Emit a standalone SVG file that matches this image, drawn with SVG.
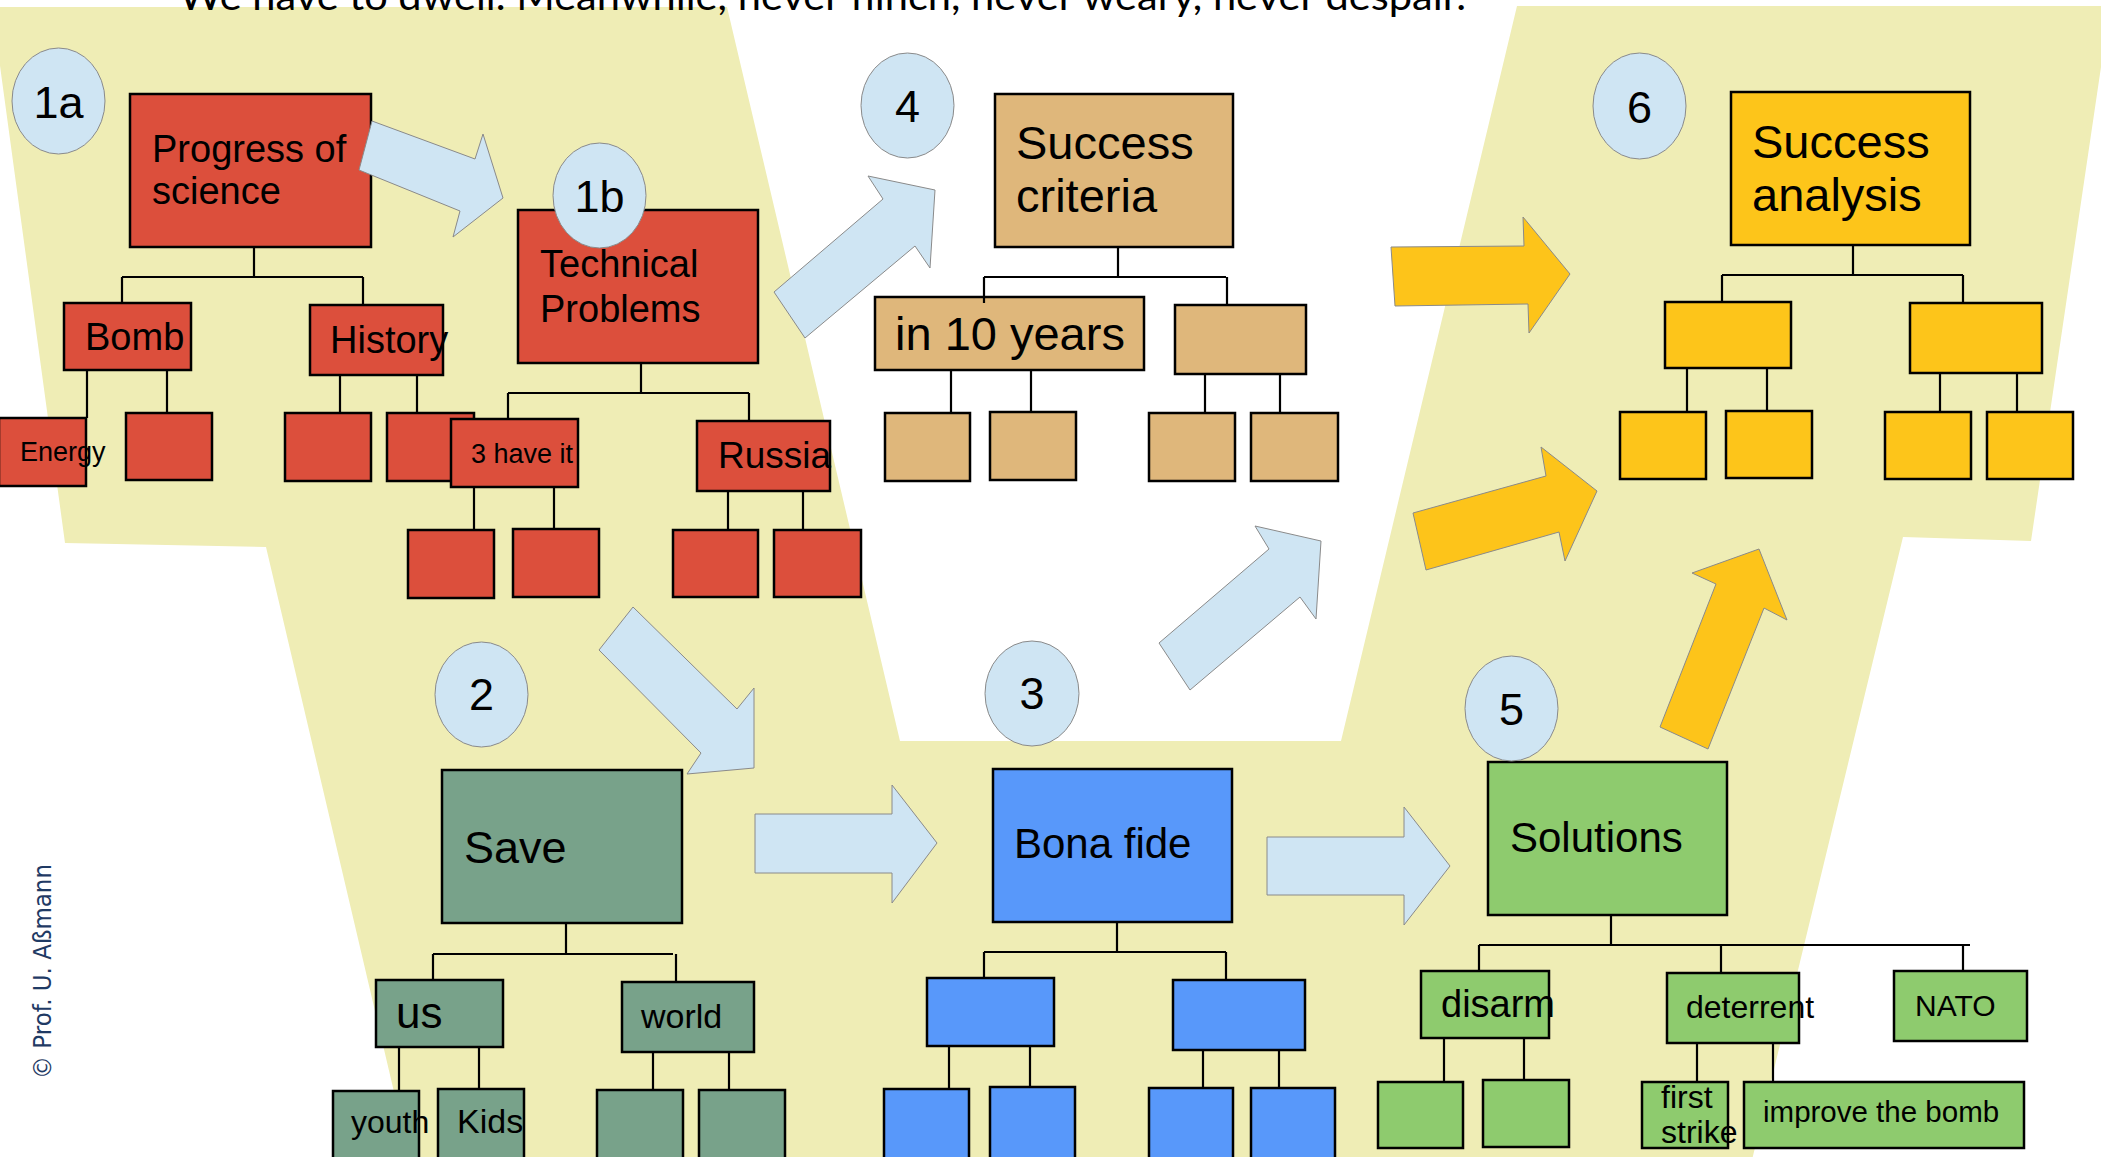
<svg xmlns="http://www.w3.org/2000/svg" width="2101" height="1157" viewBox="0 0 2101 1157">
<style>
.t{font-family:"Liberation Sans",Arial,sans-serif;fill:#000}
.box{stroke:#000;stroke-width:2.5}
.red{fill:#dc4f3c}.tan{fill:#dfb77b}.gold{fill:#fdc51a}.sage{fill:#78a28a}.blue{fill:#5898fa}.green{fill:#8ecb6e}
.ln{fill:none;stroke:#000;stroke-width:2.2}
.ba{fill:#cfe5f3;stroke:#8a8a8a;stroke-width:1}
.ga{fill:#fdc41a;stroke:#8a8a8a;stroke-width:1}
.badge{fill:#cfe5f3;stroke:#8a8a8a;stroke-width:1}
.bt{font-family:"Liberation Sans",Arial,sans-serif;font-size:45px;text-anchor:middle;fill:#000}
</style>
<rect x="0" y="0" width="2101" height="1157" fill="#fff"/>
<polygon id="background" fill="#efedb5" points="-8,7 727,7 900,741 1341,741 1517,6 2110,6 2031,541 1903,537 1752,1160 410,1160 266,547 65,543"/>
<text x="179" y="10" font-family="Lato,'Open Sans',sans-serif" font-size="38" textLength="1287" lengthAdjust="spacingAndGlyphs" fill="#000">We have to dwell. Meanwhile, never flinch, never weary, never despair.</text>

<g id="nodes">
<g id="progress"><rect class="box red" x="130" y="94" width="241" height="153"/><text class="t" font-size="38"><tspan x="152" y="162">Progress of</tspan><tspan x="152" y="204">science</tspan></text></g>
<g id="bomb"><rect class="box red" x="64" y="303" width="127" height="67"/><text class="t" x="85" y="350" font-size="38">Bomb</text></g>
<g id="history"><rect class="box red" x="310" y="305" width="133" height="70"/><text class="t" x="330" y="353" font-size="38">History</text></g>
<g id="tech"><rect class="box red" x="518" y="210" width="240" height="153"/><text class="t" font-size="38"><tspan x="540" y="277">Technical</tspan><tspan x="540" y="322">Problems</tspan></text></g>
<g id="energy"><rect class="box red" x="-1" y="418" width="87" height="68"/><text class="t" x="20" y="461" font-size="27">Energy</text></g>
<g id="bomb-c2"><rect class="box red" x="126" y="413" width="86" height="67"/></g>
<g id="history-c1"><rect class="box red" x="285" y="413" width="86" height="68"/></g>
<g id="history-c2"><rect class="box red" x="387" y="413" width="87" height="68"/></g>
<g id="have"><rect class="box red" x="451" y="419" width="127" height="68"/><text class="t" x="471" y="463" font-size="27">3 have it</text></g>
<g id="russia"><rect class="box red" x="697" y="421" width="133" height="70"/><text class="t" x="718" y="468" font-size="37">Russia</text></g>
<g id="have-c1"><rect class="box red" x="408" y="530" width="86" height="68"/></g>
<g id="have-c2"><rect class="box red" x="513" y="529" width="86" height="68"/></g>
<g id="russia-c1"><rect class="box red" x="673" y="530" width="85" height="67"/></g>
<g id="russia-c2"><rect class="box red" x="774" y="530" width="87" height="67"/></g>

<g id="criteria"><rect class="box tan" x="995" y="94" width="238" height="153"/><text class="t" font-size="47"><tspan x="1016" y="159">Success</tspan><tspan x="1016" y="212">criteria</tspan></text></g>
<g id="in10"><rect class="box tan" x="875" y="297" width="269" height="73"/><text class="t" x="895" y="350" font-size="47">in 10 years</text></g>
<g id="tan2"><rect class="box tan" x="1175" y="305" width="131" height="69"/></g>
<g id="tan-c1"><rect class="box tan" x="885" y="413" width="85" height="68"/></g>
<g id="tan-c2"><rect class="box tan" x="990" y="412" width="86" height="68"/></g>
<g id="tan-c3"><rect class="box tan" x="1149" y="413" width="86" height="68"/></g>
<g id="tan-c4"><rect class="box tan" x="1251" y="413" width="87" height="68"/></g>

<g id="analysis"><rect class="box gold" x="1731" y="92" width="239" height="153"/><text class="t" font-size="47"><tspan x="1752" y="158">Success</tspan><tspan x="1752" y="211">analysis</tspan></text></g>
<g id="gold1"><rect class="box gold" x="1665" y="302" width="126" height="66"/></g>
<g id="gold2"><rect class="box gold" x="1910" y="303" width="132" height="70"/></g>
<g id="gold-c1"><rect class="box gold" x="1620" y="412" width="86" height="67"/></g>
<g id="gold-c2"><rect class="box gold" x="1726" y="411" width="86" height="67"/></g>
<g id="gold-c3"><rect class="box gold" x="1885" y="412" width="86" height="67"/></g>
<g id="gold-c4"><rect class="box gold" x="1987" y="412" width="86" height="67"/></g>

<g id="save"><rect class="box sage" x="442" y="770" width="240" height="153"/><text class="t" x="464" y="863" font-size="45">Save</text></g>
<g id="us"><rect class="box sage" x="376" y="980" width="127" height="67"/><text class="t" x="396" y="1028" font-size="44">us</text></g>
<g id="world"><rect class="box sage" x="622" y="982" width="132" height="70"/><text class="t" x="641" y="1028" font-size="34">world</text></g>
<g id="youth"><rect class="box sage" x="333" y="1091" width="86" height="70"/><text class="t" x="351" y="1133" font-size="32">youth</text></g>
<g id="kids"><rect class="box sage" x="438" y="1089" width="86" height="72"/><text class="t" x="457" y="1133" font-size="34">Kids</text></g>
<g id="world-c1"><rect class="box sage" x="597" y="1090" width="86" height="72"/></g>
<g id="world-c2"><rect class="box sage" x="699" y="1090" width="86" height="72"/></g>

<g id="bona"><rect class="box blue" x="993" y="769" width="239" height="153"/><text class="t" x="1014" y="858" font-size="42">Bona fide</text></g>
<g id="blue1"><rect class="box blue" x="927" y="978" width="127" height="68"/></g>
<g id="blue2"><rect class="box blue" x="1173" y="980" width="132" height="70"/></g>
<g id="blue-c1"><rect class="box blue" x="884" y="1089" width="85" height="72"/></g>
<g id="blue-c2"><rect class="box blue" x="990" y="1087" width="85" height="74"/></g>
<g id="blue-c3"><rect class="box blue" x="1149" y="1088" width="84" height="73"/></g>
<g id="blue-c4"><rect class="box blue" x="1251" y="1088" width="84" height="73"/></g>

<g id="solutions"><rect class="box green" x="1488" y="762" width="239" height="153"/><text class="t" x="1510" y="852" font-size="42">Solutions</text></g>
<g id="disarm"><rect class="box green" x="1421" y="971" width="128" height="67"/><text class="t" x="1441" y="1017" font-size="38">disarm</text></g>
<g id="deterrent"><rect class="box green" x="1667" y="973" width="132" height="70"/><text class="t" x="1686" y="1018" font-size="32">deterrent</text></g>
<g id="nato"><rect class="box green" x="1894" y="971" width="133" height="70"/><text class="t" x="1915" y="1016" font-size="30">NATO</text></g>
<g id="disarm-c1"><rect class="box green" x="1378" y="1082" width="85" height="66"/></g>
<g id="disarm-c2"><rect class="box green" x="1483" y="1080" width="86" height="67"/></g>
<g id="first-strike"><rect class="box green" x="1642" y="1082" width="86" height="66"/><text class="t" font-size="32"><tspan x="1661" y="1108">first</tspan><tspan x="1661" y="1143">strike</tspan></text></g>
<g id="improve"><rect class="box green" x="1744" y="1082" width="280" height="66"/><text class="t" x="1763" y="1122" font-size="29.5">improve the bomb</text></g>
</g>

<g id="connectors">
<path class="ln" d="M254,247V277M122,277H363M122,277V303M363,277V305
M87,370V418M167,370V413M340,375V413M417,375V413
M641,363V393M508,393H749M508,393V419M749,393V421
M474,487V530M554,487V529M728,491V530M803,491V530
M1118,247V277M984,277H1226M984,277V303M1227,277V305
M951,370V413M1031,370V412M1205,374V413M1280,374V413
M1853,245V275M1722,275H1963M1722,275V302M1963,275V303
M1687,368V412M1767,368V411M1940,373V412M2017,373V412
M566,923V954M433,954H673M433,954V980M676,954V982
M399,1047V1091M479,1047V1089M653,1052V1090M729,1052V1090
M1117,922V952M984,952H1226M984,952V978M1226,952V980
M949,1046V1089M1030,1046V1087M1203,1050V1088M1279,1050V1088
M1611,915V945M1479,945H1970M1479,945V971M1721,945V973M1963,945V971
M1444,1038V1082M1524,1038V1080M1697,1043V1082M1773,1043V1082"/>
<polygon class="ba" points="372,121 475,159 483,134 503,198 453,237 460,211 359,170"/>
<polygon class="ba" points="774,292 883,199 868,176 935,190 930,268 915,246 805,338"/>
<polygon class="ba" points="633,607 737,709 754,688 754,768 687,774 701,753 599,650"/>
<polygon class="ba" points="755,814 892,814 892,785 937,843 892,903 892,873 755,873"/>
<polygon class="ba" points="1267,837 1404,837 1404,807 1450,866 1404,925 1404,895 1267,895"/>
<polygon class="ba" points="1159,643 1269,549 1255,526 1321,541 1316,619 1300,597 1190,690"/>
<polygon class="ga" points="1391,247 1524,246 1523,217 1570,274 1529,333 1528,304 1395,306"/>
<polygon class="ga" points="1413,513 1546,476 1541,447 1597,491 1565,561 1559,532 1426,570"/>
<polygon class="ga" points="1660,727 1716,584 1692,573 1759,549 1787,620 1764,608 1708,749"/>
</g>

<g id="badges">
<g id="b1a"><ellipse class="badge" cx="58.5" cy="101" rx="46.5" ry="53"/><text class="bt" x="58.5" y="118">1a</text></g>
<g id="b1b"><ellipse class="badge" cx="599.5" cy="195.5" rx="46.5" ry="52.5"/><text class="bt" x="599.5" y="212">1b</text></g>
<g id="b4"><ellipse class="badge" cx="907.5" cy="105.5" rx="46.5" ry="52.5"/><text class="bt" x="907.5" y="122">4</text></g>
<g id="b6"><ellipse class="badge" cx="1639.5" cy="106" rx="46.5" ry="53"/><text class="bt" x="1639.5" y="123">6</text></g>
<g id="b2"><ellipse class="badge" cx="481.5" cy="694.5" rx="46.5" ry="52.5"/><text class="bt" x="481.5" y="710">2</text></g>
<g id="b3"><ellipse class="badge" cx="1032" cy="693.5" rx="47" ry="52.5"/><text class="bt" x="1032" y="709">3</text></g>
<g id="b5"><ellipse class="badge" cx="1511.5" cy="708.5" rx="46.5" ry="52.5"/><text class="bt" x="1511.5" y="725">5</text></g>
</g>

<text transform="translate(51,1079) rotate(-90)" x="0" y="0" font-family="'DejaVu Sans',Verdana,sans-serif" font-size="25" textLength="215" lengthAdjust="spacingAndGlyphs" fill="#1f3a64">© Prof. U. Aßmann</text>
</svg>
